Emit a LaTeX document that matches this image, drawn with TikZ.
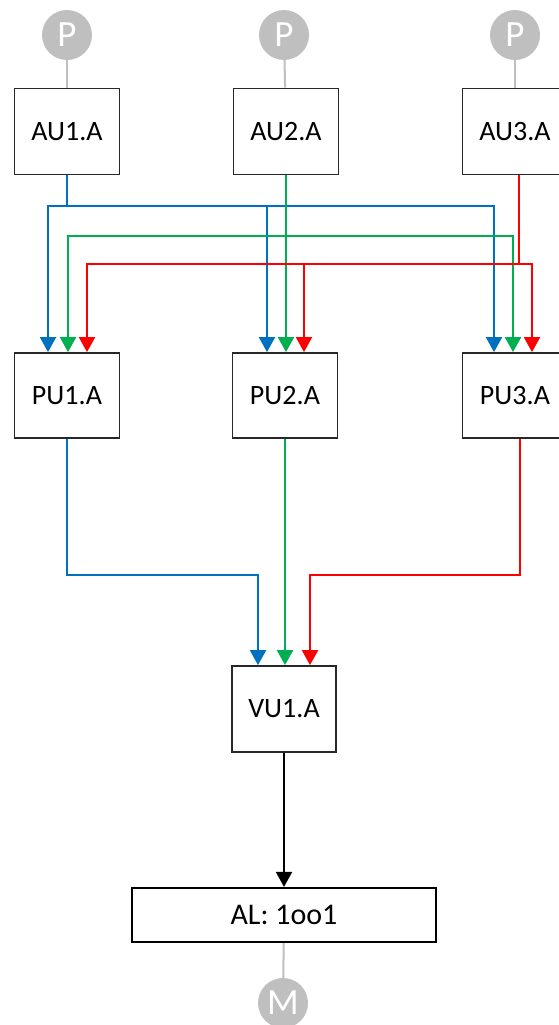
\documentclass[tikz,border=0pt]{standalone}
\usepackage{fontspec}
\setmainfont{Carlito}
\usetikzlibrary{arrows.meta}
\definecolor{lnblue}{RGB}{0,112,192}
\definecolor{lngreen}{RGB}{0,176,80}
\definecolor{lnred}{RGB}{255,0,0}
\definecolor{portgray}{RGB}{191,191,191}
\definecolor{boxline}{RGB}{40,40,40}
\begin{document}
\begin{tikzpicture}[x=1pt,y=-1pt,
  unitbox/.style={draw=boxline,line width=1.8pt,fill=white,minimum width=105pt,
    minimum height=86pt,inner sep=0pt,font=\fontsize{28}{32}\selectfont},
  albox/.style={draw=black,line width=2.2pt,fill=white,minimum width=304pt,
    minimum height=54pt,inner sep=0pt,font=\fontsize{30}{34}\selectfont},
  port/.style={circle,fill=portgray,minimum size=50pt,inner sep=0pt,text=white,
    font=\fontsize{37}{40}\selectfont},
  portline/.style={draw=portgray,line width=2pt},
  conn/.style={line width=2pt},
  tip/.style={-{Triangle[length=15pt,width=16pt]}}]
\useasboundingbox (0,0) rectangle (558,1025);

% units
\node[unitbox] (AU1) at (67,131.5) {AU1.A};
\node[unitbox] (AU2) at (286,131.5) {AU2.A};
\node[unitbox] (AU3) at (515,131.5) {AU3.A};
\node[unitbox,minimum height=85pt] (PU1) at (67,395.5) {PU1.A};
\node[unitbox,minimum height=85pt] (PU2) at (285,395.5) {PU2.A};
\node[unitbox,minimum height=85pt] (PU3) at (515,395.5) {PU3.A};
\node[unitbox,minimum width=104pt] (VU1) at (284,709) {VU1.A};
\node[albox] (AL) at (284,915) {AL: 1oo1};

% sensors and actuator
\node[port] (P1) at (67,35) {P};
\node[port] (P2) at (284,35) {P};
\node[port] (P3) at (515,35) {P};
\node[port] (M) at (283,1003) {M};
\draw[portline] (P1) -- (AU1);
\draw[portline] (P2) -- (AU2);
\draw[portline] (P3) -- (AU3);
\draw[portline] (AL) -- (M);

% input ports on the processing units
\coordinate (PU1b) at ([xshift=-19pt]PU1.north);
\coordinate (PU1g) at ([xshift=1pt]PU1.north);
\coordinate (PU1r) at ([xshift=20pt]PU1.north);
\coordinate (PU2b) at ([xshift=-18pt]PU2.north);
\coordinate (PU2g) at ([xshift=1pt]PU2.north);
\coordinate (PU2r) at ([xshift=19pt]PU2.north);
\coordinate (PU3b) at ([xshift=-21pt]PU3.north);
\coordinate (PU3g) at ([xshift=-2pt]PU3.north);
\coordinate (PU3r) at ([xshift=17pt]PU3.north);
\coordinate (VU1b) at ([xshift=-26pt]VU1.north);
\coordinate (VU1g) at ([xshift=1pt]VU1.north);
\coordinate (VU1r) at ([xshift=26pt]VU1.north);

% junctions of the distribution buses
\coordinate (bj) at (67,206);
\coordinate (gj) at (286,236);
\coordinate (rj) at (519,264);
\coordinate (AU3o) at ([xshift=4pt]AU3.south);
\coordinate (PU3o) at ([xshift=5pt]PU3.south);

% blue bus from AU1
\draw[conn,lnblue] (AU1.south) -- (bj);
\draw[conn,lnblue,tip] (bj) -| (PU1b);
\draw[conn,lnblue,tip] (bj) -| (PU2b);
\draw[conn,lnblue,tip] (bj) -| (PU3b);

% green bus from AU2
\draw[conn,lngreen,tip] (AU2.south) -- (PU2g);
\draw[conn,lngreen,tip] (gj) -| (PU1g);
\draw[conn,lngreen,tip] (gj) -| (PU3g);

% red bus from AU3
\draw[conn,lnred] (AU3o) -- (rj);
\draw[conn,lnred,tip] (rj) -| (PU1r);
\draw[conn,lnred,tip] (rj) -| (PU2r);
\draw[conn,lnred,tip] (rj) -| (PU3r);

% processing units to voter
\draw[conn,lnblue,tip] (PU1.south) |- ([yshift=90pt]VU1b) -- (VU1b);
\draw[conn,lngreen,tip] (PU2.south) -- (VU1g);
\draw[conn,lnred,tip] (PU3o) |- ([yshift=90pt]VU1r) -- (VU1r);

% voter to actuation logic
\draw[conn,black,tip] (VU1.south) -- (AL.north);
\end{tikzpicture}
\end{document}
